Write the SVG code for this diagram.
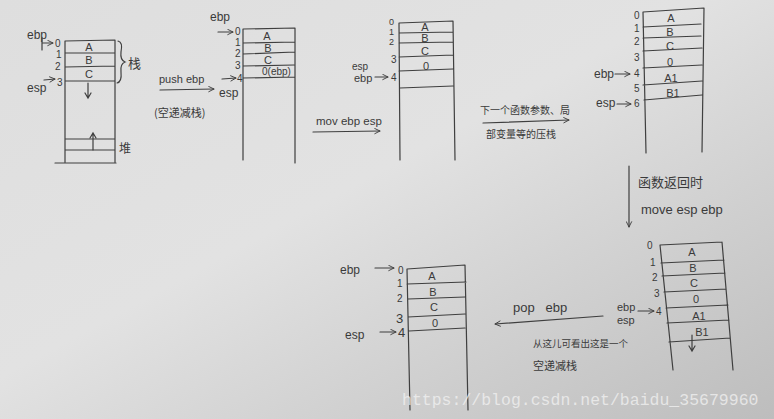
<svg xmlns="http://www.w3.org/2000/svg" width="774" height="419" viewBox="0 0 774 419">
<defs>
<linearGradient id="paper" x1="0" y1="0" x2="1" y2="1">
<stop offset="0" stop-color="#dedede"/>
<stop offset="0.45" stop-color="#e2e2e2"/>
<stop offset="1" stop-color="#bdbdbd"/>
</linearGradient>
<marker id="ah" viewBox="0 0 10 10" refX="9" refY="5" markerWidth="7" markerHeight="7" orient="auto-start-reverse" markerUnits="userSpaceOnUse">
<path d="M1,1 L9,5 L1,9" fill="none" stroke="#3c3c3c" stroke-width="1.3"/>
</marker>
</defs>
<style>
.ln{fill:none;stroke:#3f3f3f;stroke-width:1.2;stroke-linecap:round}
.t{font-family:"Liberation Sans","Noto Sans CJK SC",sans-serif;fill:#3a3a3a}
.n{font-size:10px}
.c{font-size:11px;text-anchor:middle}
.r{font-size:12px}
.z{font-family:"Noto Sans CJK SC",sans-serif;fill:#3a3a3a}
.wm{font-family:"Liberation Mono",monospace;font-size:16.5px;fill:#f2f2f2;fill-opacity:0.75}
</style>
<rect width="774" height="419" fill="url(#paper)"/>

<g id="stack1">
<path class="ln" d="M65,41 L65,162 M115,40 L115,162 M55,163 L116,163 M65,41 L115,40 M65,53 L115,53 M65,67 L115,66 M65,81 L115,81 M65,139 L115,139 M65,150 L115,150"/>
<text class="t c" x="89" y="51">A</text>
<text class="t c" x="89" y="64">B</text>
<text class="t c" x="89" y="78">C</text>
<path class="ln" d="M88,83 L88,97 M85,93 L88,98 L91,93"/>
<path class="ln" d="M93,150 L93,134 M90,138 L93,133 L96,138"/>
<text class="t n" x="55" y="47">0</text>
<text class="t n" x="56" y="58">1</text>
<text class="t n" x="55" y="70">2</text>
<text class="t n" x="57" y="86">3</text>
<text class="t r" x="27" y="39">ebp</text>
<text class="t r" x="27" y="92">esp</text>
<path class="ln" d="M118,41 Q123,42 121,52 Q120,60 125,62 Q120,64 121,72 Q122,82 117,83"/>
<text class="z" x="128" y="68" font-size="13">栈</text>
<text class="z" x="119" y="153" font-size="12">堆</text>
</g>

<g id="stack2">
<path class="ln" d="M243,29 L243,160 M295,28 L295,163 M243,29 L295,28 M243,43 L295,42 M243,54 L295,52 M243,66 L294,65 M243,78 L295,77"/>
<text class="t c" x="267" y="40">A</text>
<text class="t c" x="268" y="52">B</text>
<text class="t c" x="268" y="64">C</text>
<text class="t" x="262" y="75" font-size="10">0(ebp)</text>
<text class="t n" x="235" y="35">0</text>
<text class="t n" x="235" y="46">1</text>
<text class="t n" x="235" y="57">2</text>
<text class="t n" x="235" y="69">3</text>
<text class="t n" x="237" y="82">4</text>
<text class="t r" x="210" y="21">ebp</text>
<text class="t r" x="219" y="97">esp</text>
</g>

<g id="stack3">
<path class="ln" d="M399,23 L400,160 M453,21 L455,160 M399,23 L453,21 M399,33 L453,32 M399,43 L453,42 M399,57 L453,55 M399,71 L453,69 M400,88 L453,86"/>
<text class="t c" x="425" y="31" font-size="10">A</text>
<text class="t c" x="425" y="42" font-size="10">B</text>
<text class="t c" x="425" y="55">C</text>
<text class="t c" x="426" y="70">0</text>
<text class="t" x="389" y="25" font-size="9">0</text>
<text class="t" x="389" y="35" font-size="9">1</text>
<text class="t" x="389" y="45" font-size="9">2</text>
<text class="t n" x="391" y="63">3</text>
<text class="t n" x="391" y="81">4</text>
<text class="t" x="352" y="70" font-size="10">esp</text>
<text class="t" x="354" y="82" font-size="11">ebp</text>
</g>

<g id="stack4">
<path class="ln" d="M643,12 L646,153 M704,8 L702,152 M643,12 L704,8 M643,27 L701,24 M643,38 L701,36 M643,51 L702,48 M643,68 L702,65 M643,85 L702,81 M644,100 L702,95"/>
<text class="t c" x="671" y="22">A</text>
<text class="t c" x="670" y="36">B</text>
<text class="t c" x="670" y="50">C</text>
<text class="t c" x="670" y="66">0</text>
<text class="t c" x="671" y="82">A1</text>
<text class="t c" x="673" y="97" font-size="10">B1</text>
<text class="t n" x="634" y="19">0</text>
<text class="t n" x="634" y="32">1</text>
<text class="t n" x="634" y="45">2</text>
<text class="t n" x="634" y="61">3</text>
<text class="t n" x="634" y="77">4</text>
<text class="t n" x="634" y="92">5</text>
<text class="t n" x="634" y="107">6</text>
<text class="t r" x="594" y="78">ebp</text>
<text class="t r" x="596" y="107">esp</text>
</g>

<g id="stack5">
<path class="ln" d="M660,245 L673,370 M722,242 L733,370 M660,245 L722,242 M661,263 L724,260 M662,276 L725,273 M664,292 L726,289 M666,308 L728,305 M667,323 L729,320 M669,342 L730,338"/>
<text class="t c" x="692" y="256">A</text>
<text class="t c" x="693" y="272">B</text>
<text class="t c" x="694" y="287">C</text>
<text class="t c" x="696" y="303">0</text>
<text class="t c" x="699" y="320">A1</text>
<text class="t c" x="702" y="336" font-size="10">B1</text>
<path class="ln" d="M692,335 L692,350 M689,346 L692,351 L695,346"/>
<text class="t n" x="647" y="249">0</text>
<text class="t n" x="650" y="266">1</text>
<text class="t n" x="652" y="281">2</text>
<text class="t n" x="654" y="297">3</text>
<text class="t n" x="656" y="315">4</text>
<text class="t" x="617" y="311" font-size="11">ebp</text>
<text class="t" x="617" y="324" font-size="11">esp</text>
</g>

<g id="stack6">
<path class="ln" d="M407,269 L410,410 M465,265 L468,410 M407,269 L465,265 M407,284 L466,282 M408,299 L465,297 M408,317 L465,314 M409,331 L465,328"/>
<text class="t c" x="432" y="280">A</text>
<text class="t c" x="433" y="296">B</text>
<text class="t c" x="434" y="311">C</text>
<text class="t c" x="435" y="327">0</text>
<text class="t n" x="398" y="274">0</text>
<text class="t n" x="397" y="287">1</text>
<text class="t n" x="397" y="302">2</text>
<text class="t" x="396" y="323" font-size="13">3</text>
<text class="t" x="398" y="337" font-size="13">4</text>
<text class="t r" x="340" y="274">ebp</text>
<text class="t r" x="345" y="339">esp</text>
</g>

<g id="label-push">
<text class="t" x="159" y="83" font-size="11">push ebp</text>
<text class="z" x="154" y="117" font-size="11">(空递减栈)</text>
</g>
<g id="label-mov">
<text class="t" x="316" y="125" font-size="11.5">mov ebp esp</text>
</g>
<g id="label-next">
<text class="z" x="480" y="114" font-size="10">下一个函数参数、局</text>
<text class="z" x="486" y="138" font-size="10">部变量等的压栈</text>
</g>
<g id="label-return">
<text class="z" x="638" y="187" font-size="13">函数返回时</text>
<text class="t" x="641" y="214" font-size="13">move esp ebp</text>
</g>
<g id="label-pop">
<text class="t" x="513" y="312" font-size="13">pop&#160;&#160;&#160;ebp</text>
<text class="z" x="533" y="347" font-size="9.5">从这儿可看出这是一个</text>
<text class="z" x="533" y="370" font-size="11">空递减栈</text>
</g>

<g id="connectors">
<path class="ln" d="M42,38 L42,50 M42,43 L53,43" marker-end="url(#ah)"/>
<path class="ln" d="M44,80 L55,79" marker-end="url(#ah)"/>
<path class="ln" d="M218,32 L233,32" marker-end="url(#ah)"/>
<path class="ln" d="M222,79 L236,78" marker-end="url(#ah)"/>
<path class="ln" d="M160,90 L214,89" marker-end="url(#ah)"/>
<path class="ln" d="M375,77 L388,77" marker-end="url(#ah)"/>
<path class="ln" d="M313,132 L380,131" marker-end="url(#ah)"/>
<path class="ln" d="M483,123 L569,120" marker-end="url(#ah)"/>
<path class="ln" d="M615,74 L630,74" marker-end="url(#ah)"/>
<path class="ln" d="M617,104 L631,104" marker-end="url(#ah)"/>
<path class="ln" d="M629,166 L629,227" marker-end="url(#ah)"/>
<path class="ln" d="M638,311 L654,311" marker-end="url(#ah)"/>
<path class="ln" d="M603,316 L495,324" marker-end="url(#ah)"/>
<path class="ln" d="M375,268 L394,268" marker-end="url(#ah)"/>
<path class="ln" d="M380,332 L396,332" marker-end="url(#ah)"/>
</g>

<text class="wm" x="402" y="405">https://blog.csdn.net/baidu_35679960</text>
</svg>
